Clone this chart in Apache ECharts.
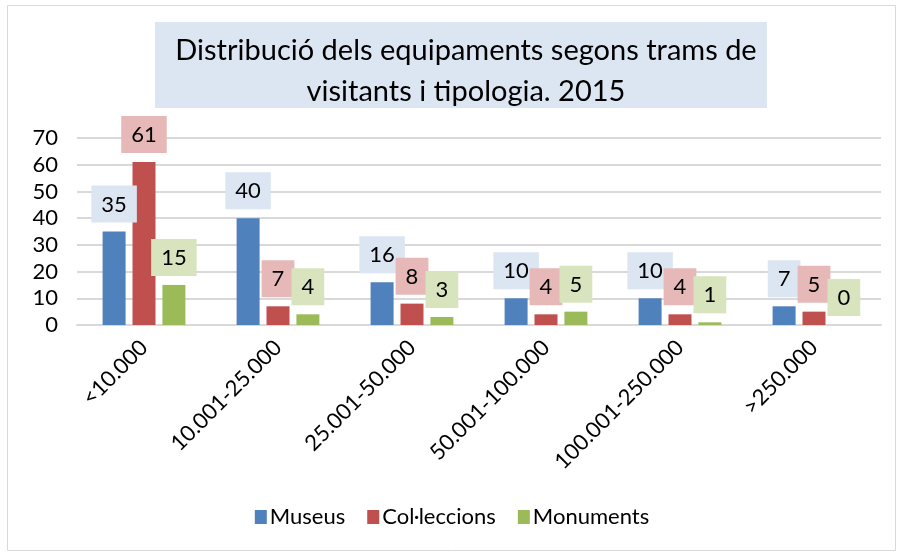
<!DOCTYPE html>
<html>
<head>
<meta charset="utf-8">
<script src="https://cdn.jsdelivr.net/npm/echarts@6/dist/echarts.min.js"></script>
<style>
  html, body { margin: 0; padding: 0; background: #fff; }
  #main { width: 904px; height: 556px; }
</style>
</head>
<body>
<div id="main"></div>
<script>
  var categories = ['<10.000', '10.001-25.000', '25.001-50.000', '50.001-100.000', '100.001-250.000', '>250.000'];
  var museus = [35, 40, 16, 10, 10, 7];
  var colleccions = [61, 7, 8, 4, 4, 5];
  var monuments = [15, 4, 3, 5, 1, 0];
  var seriesNames = ['Museus', 'Col\u00b7leccions', 'Monuments'];

  var font = 'Lato, "Open Sans", sans-serif';
  var colors = ['#4f81bd', '#c0504d', '#9bbb59'];
  var labelBg = ['#dce6f2', '#e6b9b8', '#d7e4bd'];

  function makeSeries(name, data, i) {
    return {
      name: name,
      type: 'bar',
      data: data,
      barWidth: 23,
      barGap: '30%',
      itemStyle: { color: colors[i] },
      label: {
        show: true,
        position: 'top',
        distance: 9,
        fontFamily: font,
        fontSize: 22,
        color: '#000',
        backgroundColor: labelBg[i],
        padding: [8, 10, 7, 10]
      }
    };
  }

  var myChart = echarts.init(document.getElementById('main'));
  myChart.setOption({
    animation: false,
    color: colors,
    title: {
      text: 'Distribució dels equipaments segons trams de\nvisitants i tipologia. 2015',
      left: 461,
      top: 25,
      textAlign: 'center',
      textStyle: { fontFamily: font, fontSize: 29, fontWeight: 'normal', color: '#000', lineHeight: 41 }
    },
    graphic: [
      { type: 'rect', z: -10, shape: { x: 7.5, y: 5.5, width: 888, height: 545 },
        style: { fill: '#fff', stroke: '#d9d9d9', lineWidth: 1 } },
      { type: 'rect', z: 0, shape: { x: 155, y: 22, width: 612, height: 86 },
        style: { fill: '#dce6f2' } }
    ],
    legend: {
      data: seriesNames,
      bottom: 23,
      left: 'center',
      itemWidth: 12,
      itemHeight: 14,
      itemGap: 22,
      icon: 'rect',
      textStyle: { fontFamily: font, fontSize: 22, color: '#000', padding: [0, 0, 0, -2] }
    },
    grid: { left: 77, right: 23, top: 138, bottom: 231 },
    xAxis: {
      type: 'category',
      data: categories,
      axisLine: { lineStyle: { color: '#d9d9d9', width: 2 } },
      axisTick: { show: false },
      axisLabel: { rotate: 45, margin: 19, interval: 0, fontFamily: font, fontSize: 22, color: '#000' }
    },
    yAxis: {
      type: 'value',
      min: 0,
      max: 70,
      interval: 10,
      axisLine: { show: false },
      axisTick: { show: false },
      splitLine: { lineStyle: { color: '#d9d9d9', width: 2 } },
      axisLabel: { margin: 19, fontFamily: font, fontSize: 22, color: '#000' }
    },
    series: [
      makeSeries(seriesNames[0], museus, 0),
      makeSeries(seriesNames[1], colleccions, 1),
      makeSeries(seriesNames[2], monuments, 2)
    ]
  });
</script>
</body>
</html>
